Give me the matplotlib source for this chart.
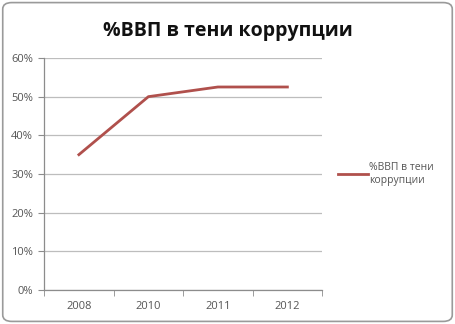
import matplotlib.pyplot as plt
import matplotlib as mpl
from matplotlib.patches import FancyBboxPatch
from matplotlib.ticker import PercentFormatter

mpl.rcParams['font.family'] = ['Open Sans', 'DejaVu Sans']

years = ['2008', '2010', '2011', '2012']
share = [35, 50, 52.5, 52.5]
series_name = '%ВВП в тени\nкоррупции'
title = '%ВВП в тени коррупции'

line_color = '#B0504C'
grid_color = '#BDBDBD'
text_color = '#555555'

fig = plt.figure(figsize=(4.55, 3.24), dpi=100)
fig.patch.set_facecolor('white')

# rounded chart border
border = FancyBboxPatch((0.006, 0.008), 0.988, 0.984, boxstyle='round,pad=0,rounding_size=0.02',
                        transform=fig.transFigure, fill=False, edgecolor='#9A9A9A', lw=1.2)
fig.patches.append(border)

ax = fig.add_axes([0.097, 0.105, 0.611, 0.716])
x = range(len(years))
ax.plot(x, share, color=line_color, lw=2, label=series_name)

ax.set_xlim(-0.5, len(years) - 0.5)
ax.set_ylim(0, 60)
ax.set_yticks(range(0, 61, 10))
ax.yaxis.set_major_formatter(PercentFormatter(decimals=0))
ax.set_xticks(list(x))
ax.set_xticklabels(years)
ax.set_xticks([i - 0.5 for i in range(len(years) + 1)], minor=True)

ax.grid(axis='y', color=grid_color, lw=0.9)
ax.set_axisbelow(True)
for s in ['top', 'right']:
    ax.spines[s].set_visible(False)
for s in ['left', 'bottom']:
    ax.spines[s].set_color('#8C8C8C')
    ax.spines[s].set_linewidth(0.9)

ax.tick_params(axis='x', which='major', length=0, pad=8, labelsize=8, labelcolor=text_color)
ax.tick_params(axis='x', which='minor', length=4, color='#8C8C8C', direction='out')
ax.tick_params(axis='y', length=4, color='#8C8C8C', labelsize=8, labelcolor=text_color, pad=4)

fig.text(0.5, 0.905, title, ha='center', va='center', fontsize=14, fontweight='bold', color='#111111')

ax.legend(loc='center left', bbox_to_anchor=(1.025, 0.5), frameon=False, fontsize=7.5,
          handlelength=2.8, handletextpad=0.15, labelcolor=text_color)

fig.savefig('out.png', dpi=100)
